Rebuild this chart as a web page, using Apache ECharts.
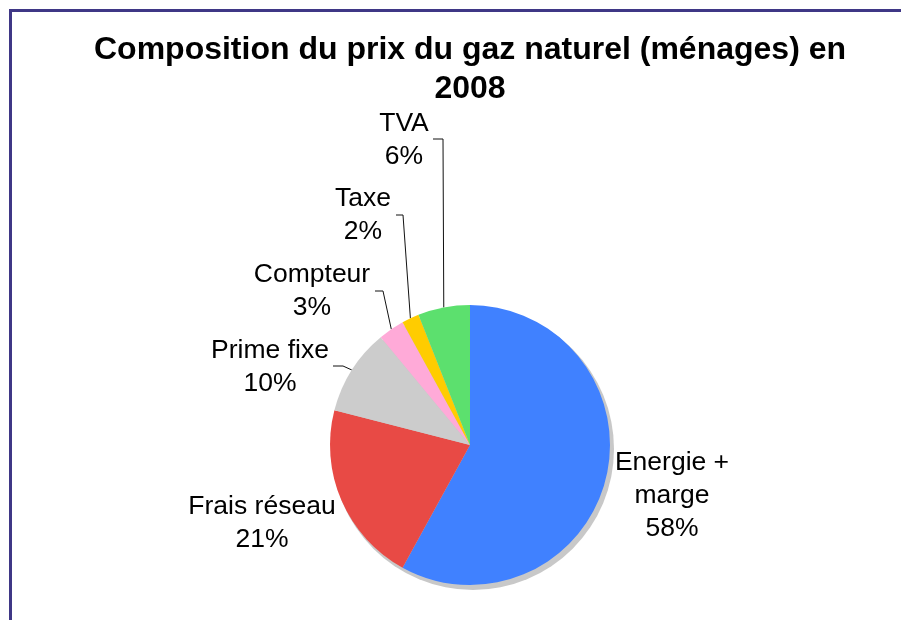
<!DOCTYPE html>
<html><head><meta charset="utf-8">
<script src="https://cdn.jsdelivr.net/npm/echarts@6/dist/echarts.min.js"></script>
<style>
html,body{margin:0;padding:0;background:#fff;overflow:hidden}
#chart{width:901px;height:620px;position:relative}
#frame{position:absolute;left:9px;top:9px;right:0;bottom:0;border-top:3px solid #3f3786;border-left:3px solid #3f3786;pointer-events:none}
</style></head><body>
<div id="chart"></div><div id="frame"></div>
<script>
const titleText = 'Composition du prix du gaz naturel (ménages) en\n2008';
const categories = ['Energie + marge', 'Frais réseau', 'Prime fixe', 'Compteur', 'Taxe', 'TVA'];
const values = [58, 21, 10, 3, 2, 6];
const colors = ['#4081ff', '#e84a45', '#cccccc', '#ffaad8', '#ffcc00', '#5ce06e'];

// label placement (block centre and leader-line corner/end)
const labelPos = [
  {x: 672, y: 496, line: false},
  {x: 262, y: 523, line: false},
  {x: 270, y: 367, line: true, cornerX: 343, endX: 333, lineY: 366},
  {x: 312, y: 291, line: true, cornerX: 383, endX: 375, lineY: 291},
  {x: 363, y: 215, line: true, cornerX: 403, endX: 396, lineY: 215},
  {x: 404, y: 140, line: true, cornerX: 443, endX: 433, lineY: 139}
];

const FONT = '"Liberation Sans", Arial, Helvetica, sans-serif';
const chart = echarts.init(document.getElementById('chart'), null, {renderer: 'canvas'});

const data = categories.map((c, i) => ({
  name: c,
  value: values[i],
  itemStyle: {color: colors[i]},
  labelLine: {show: labelPos[i].line}
}));

chart.setOption({
  animation: false,
  backgroundColor: '#ffffff',
  graphic: [{
    type: 'text',
    x: 470, y: 31,
    style: {
      text: titleText,
      font: 'bold 32px ' + FONT,
      fontSize: 32, fontWeight: 'bold', fontFamily: FONT,
      align: 'center', verticalAlign: 'top',
      lineHeight: 39, fill: '#000'
    }
  }],
  series: [
    {
      type: 'pie', silent: true, z: 1,
      center: [473, 449], radius: 141,
      data: [{value: 1, name: ''}],
      itemStyle: {color: '#c8c8c8'},
      label: {show: false}, labelLine: {show: false}
    },
    {
      type: 'pie', z: 2,
      center: [470, 445], radius: 140,
      startAngle: 90, clockwise: true,
      avoidLabelOverlap: false,
      itemStyle: {borderWidth: 0},
      data: data,
      label: {
        show: true, position: 'outside',
        color: '#000', fontFamily: FONT, fontSize: 26.5, lineHeight: 33,
        align: 'center',
        formatter: p => p.name.replace(' + ', ' +\n') + '\n' + Math.round(p.percent) + '%'
      },
      labelLine: {
        show: true, smooth: false, length: 10, length2: 10,
        lineStyle: {color: '#111', width: 1}
      },
      labelLayout: function (p) {
        const L = labelPos[p.dataIndex];
        const out = {x: L.x, y: L.y, align: 'center', verticalAlign: 'middle'};
        if (L.line && p.labelLinePoints) {
          const a = p.labelLinePoints[0];
          out.labelLinePoints = [[a[0], a[1]], [L.cornerX, L.lineY], [L.endX, L.lineY]];
        }
        return out;
      }
    }
  ]
});
</script>
</body></html>
